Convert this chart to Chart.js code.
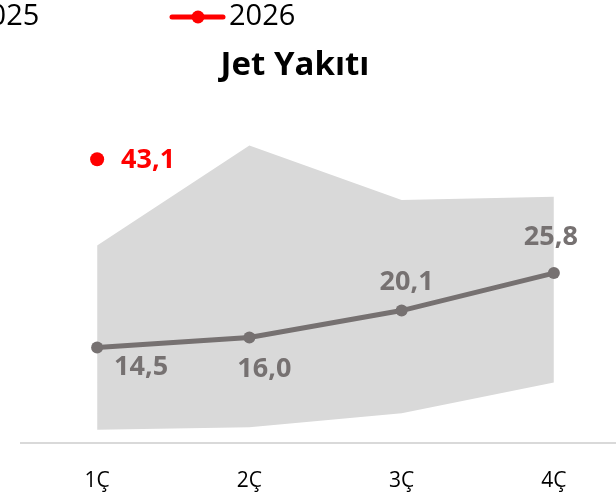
<!DOCTYPE html>
<html>
<head>
<meta charset="utf-8">
<script src="https://cdn.jsdelivr.net/npm/chart.js@4"></script>
<style>
  html, body { margin: 0; padding: 0; overflow: hidden; background: #fff; }
  #wrap { position: absolute; left: -50px; top: 0; }
</style>
</head>
<body>
<div id="wrap"><canvas id="chart" width="688" height="514"></canvas></div>
<script>
// data
const quarters = ['1Ç', '2Ç', '3Ç', '4Ç'];
const rangeLow = [2.0, 2.35, 4.5, 9.15];
const rangeHigh = [30.0, 45.2, 36.9, 37.4];
const values2025 = [14.5, 16.0, 20.1, 25.8];
const values2026 = [43.1, null, null, null];
const seriesNames = ['2025', '2026'];

// label offsets in px from each point (placed by hand in the original)
const labelOffsets2025 = [[44, 20], [15, 32], [5, -28], [-3, -36]];
const labelOffsets2026 = [[51, 1], null, null, null];

const GRAY = '#767171';
const RED = '#ff0000';

Chart.defaults.font.family = '"Open Sans", sans-serif';

// value labels like "14,5"
const pointLabels = {
  id: 'pointLabels',
  afterDatasetsDraw(chart) {
    const ctx = chart.ctx;
    chart.data.datasets.forEach((ds, i) => {
      if (!ds.labelOffsets) return;
      const meta = chart.getDatasetMeta(i);
      meta.data.forEach((pt, j) => {
        const v = ds.data[j];
        const off = ds.labelOffsets[j];
        if (v == null || !off) return;
        ctx.save();
        ctx.font = 'bold 27px "Open Sans"';
        ctx.fillStyle = ds.borderColor;
        ctx.textAlign = 'center';
        ctx.textBaseline = 'middle';
        ctx.fillText(v.toFixed(1).replace('.', ','), pt.x + off[0], pt.y + off[1]);
        ctx.restore();
      });
    });
  }
};

// legend on top, item positions follow the original (left part is cut off)
const topLegend = {
  id: 'topLegend',
  afterDraw(chart, args, opts) {
    const ctx = chart.ctx;
    opts.items.forEach(item => {
      const ds = chart.data.datasets[item.dataset];
      const y = opts.y;
      ctx.save();
      ctx.strokeStyle = ds.borderColor;
      ctx.lineWidth = 5;
      ctx.lineCap = 'round';
      ctx.beginPath();
      ctx.moveTo(item.x + 2, y);
      ctx.lineTo(item.x + 53, y);
      ctx.stroke();
      ctx.fillStyle = ds.borderColor;
      ctx.beginPath();
      ctx.arc(item.x + 28, y, 6.5, 0, Math.PI * 2);
      ctx.fill();
      ctx.fillStyle = '#000';
      ctx.font = '29px "Open Sans"';
      ctx.textBaseline = 'middle';
      ctx.fillText(ds.label, item.x + 59, y);
      ctx.restore();
    });
  }
};

new Chart(document.getElementById('chart'), {
  type: 'line',
  data: {
    labels: quarters,
    datasets: [
      {
        label: 'min',
        data: rangeLow,
        borderWidth: 0,
        pointRadius: 0,
        fill: false,
        order: 3
      },
      {
        label: 'max',
        data: rangeHigh,
        borderWidth: 0,
        pointRadius: 0,
        backgroundColor: '#d9d9d9',
        fill: '-1',
        order: 2
      },
      {
        label: seriesNames[0],
        data: values2025,
        borderColor: GRAY,
        backgroundColor: GRAY,
        borderWidth: 5,
        pointRadius: 6,
        pointBorderWidth: 0,
        tension: 0,
        labelOffsets: labelOffsets2025,
        order: 1
      },
      {
        label: seriesNames[1],
        data: values2026,
        borderColor: RED,
        backgroundColor: RED,
        showLine: false,
        pointRadius: 7,
        pointBorderWidth: 0,
        labelOffsets: labelOffsets2026,
        order: 0
      }
    ]
  },
  options: {
    responsive: false,
    animation: false,
    layout: { padding: { top: 46, left: 10, right: 8, bottom: 2 } },
    scales: {
      x: {
        offset: true,
        grid: { display: false },
        border: { display: true, color: '#d9d9d9', width: 2 },
        ticks: { color: '#000', font: { size: 21 }, padding: 18 }
      },
      y: {
        min: 0,
        max: 48,
        grid: { display: false },
        border: { display: false },
        ticks: { display: false },
        afterFit(scale) { scale.width = 61; }
      }
    },
    plugins: {
      legend: { display: false },
      tooltip: { enabled: false },
      title: {
        display: true,
        text: 'Jet Yakıtı',
        color: '#000',
        font: { size: 33, weight: 'bold', lineHeight: 1.2 },
        padding: { top: 0, bottom: 41.4 }
      },
      topLegend: {
        y: 17,
        items: [
          { dataset: 2, x: -36 },
          { dataset: 3, x: 220 }
        ]
      }
    }
  },
  plugins: [pointLabels, topLegend]
});
</script>
</body>
</html>
